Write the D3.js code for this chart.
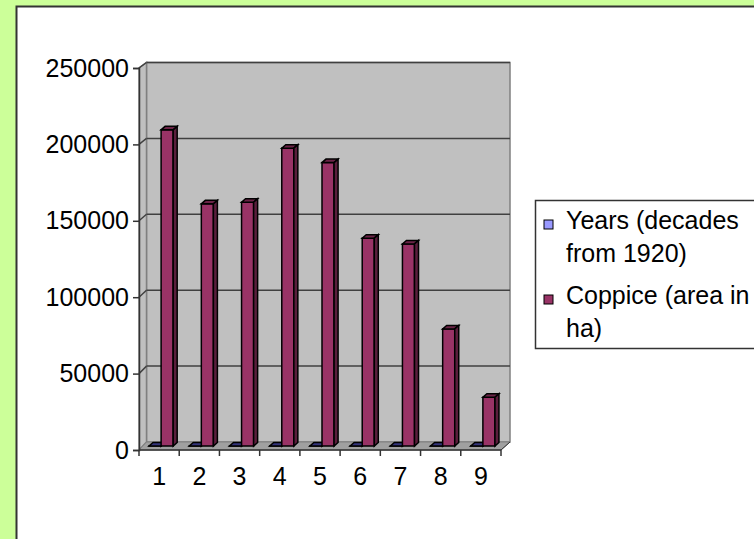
<!DOCTYPE html>
<html>
<head>
<meta charset="utf-8">
<script src="https://cdn.jsdelivr.net/npm/d3@7"></script>
<style>
  html, body { margin: 0; padding: 0; background: #ccff99; }
  svg { display: block; }
  text { font-family: Arial, "Liberation Sans", sans-serif; }
</style>
</head>
<body>
<div id="chart"></div>
<script>
// chart data
var categories = ["1", "2", "3", "4", "5", "6", "7", "8", "9"];
var yearsValues = [1, 2, 3, 4, 5, 6, 7, 8, 9];
var coppiceValues = [207600, 159000, 160100, 195600, 186100, 136500, 132700, 76900, 32000];
var yTickValues = [0, 50000, 100000, 150000, 200000, 250000];
var seriesNames = ["Years (decades from 1920)", "Coppice (area in ha)"];
var seriesColors = ["#9999ff", "#993366"];
var legendLines = [["Years (decades", "from 1920)"], ["Coppice (area in", "ha)"]];

var iWidth = 754, iHeight = 539;
var iFont = 25;

var dSVG = d3.select("#chart").append("svg")
    .attr("width", iWidth)
    .attr("height", iHeight);

// white chart area with dark top / left border
dSVG.append("rect")
    .attr("x", 16).attr("y", 6)
    .attr("width", iWidth - 16).attr("height", iHeight - 6)
    .attr("fill", "#fff");
dSVG.append("path")
    .attr("d", "M16.5," + iHeight + "V6.5H" + iWidth)
    .attr("fill", "none").attr("stroke", "#333").attr("stroke-width", 2);

// front plane scales
var x = d3.scaleBand().domain(categories).range([139, 501]).paddingInner(0.4).paddingOuter(0.2);
var xSub = d3.scaleBand().domain([0, 1]).range([0, x.bandwidth()]);
var yFront = d3.scaleLinear().domain([0, 250000]).range([450, 68]);
var yBack = d3.scaleLinear().domain([0, 250000]).range([442, 62.5]);
var yMid = d3.scaleLinear().domain([0, 250000]).range([446, 65.3]);
var depthX = 7.5;       // back wall offset
var barShiftX = 2;      // bars sit mid depth
var barDepth = 4, barRise = 3.5;

var xL = 139, xR = 501;
var bxL = xL + depthX, bxR = 510;

var g = dSVG.append("g");

// back wall
g.append("rect")
    .attr("x", bxL).attr("y", yBack(250000))
    .attr("width", bxR - bxL).attr("height", yBack(0) - yBack(250000))
    .attr("fill", "#c0c0c0").attr("stroke", "#808080").attr("stroke-width", 1.5);

// side wall
g.append("path")
    .attr("d", "M" + xL + "," + yFront(0) + "L" + xL + "," + yFront(250000) +
        "L" + bxL + "," + yBack(250000) + "L" + bxL + "," + yBack(0) + "Z")
    .attr("fill", "#c0c0c0").attr("stroke", "#808080").attr("stroke-width", 1.5);

// floor
g.append("path")
    .attr("d", "M" + xL + "," + yFront(0) + "L" + xR + "," + yFront(0) +
        "L" + bxR + "," + yBack(0) + "L" + bxL + "," + yBack(0) + "Z")
    .attr("fill", "#a0a0a0").attr("stroke", "#808080").attr("stroke-width", 1);

// gridlines (back wall + side wall)
var grid = yTickValues.filter(function(d) { return d > 0; });
g.selectAll(".gridBack").data(grid).enter().append("line")
    .attr("x1", bxL).attr("x2", bxR)
    .attr("y1", function(d) { return yBack(d); })
    .attr("y2", function(d) { return yBack(d); })
    .attr("stroke", "#404040").attr("stroke-width", 1.5);
g.selectAll(".gridSide").data(grid).enter().append("line")
    .attr("x1", xL).attr("x2", bxL)
    .attr("y1", function(d) { return yFront(d); })
    .attr("y2", function(d) { return yBack(d); })
    .attr("stroke", "#404040").attr("stroke-width", 1.5);

// axes
var yAxis = d3.axisLeft(yFront).tickValues(yTickValues).tickSize(6).tickFormat(d3.format("d"));
var gy = g.append("g").attr("transform", "translate(" + xL + ",0)").call(yAxis);
gy.select(".domain").attr("stroke", "#333").attr("stroke-width", 1.5);
gy.selectAll(".tick line").attr("stroke", "#333").attr("stroke-width", 1.5);
gy.selectAll(".tick text").attr("font-size", iFont).attr("fill", "#000").attr("x", -10)
    .attr("font-family", "Arial, 'Liberation Sans', sans-serif");

var xTicks = d3.range(categories.length + 1).map(function(i) { return xL + i * x.step(); });
g.append("line").attr("x1", xL).attr("x2", xR).attr("y1", yFront(0)).attr("y2", yFront(0))
    .attr("stroke", "#333").attr("stroke-width", 1.5);
g.append("line").attr("x1", xR).attr("x2", bxR).attr("y1", yFront(0)).attr("y2", yBack(0))
    .attr("stroke", "#333").attr("stroke-width", 1);
g.selectAll(".xtick").data(xTicks).enter().append("line")
    .attr("x1", function(d) { return d; }).attr("x2", function(d) { return d; })
    .attr("y1", yFront(0)).attr("y2", yFront(0) + 6)
    .attr("stroke", "#333").attr("stroke-width", 1.5);
g.selectAll(".xlabel").data(categories).enter().append("text")
    .attr("x", function(d) { return x(d) - x.step() * 0.2 + x.step() / 2; })
    .attr("y", 485)
    .attr("text-anchor", "middle")
    .attr("font-size", iFont)
    .text(function(d) { return d; });

// bars
var barData = [];
categories.forEach(function(c, i) {
    barData.push({ cat: c, s: 0, v: yearsValues[i] });
    barData.push({ cat: c, s: 1, v: coppiceValues[i] });
});

var shade = [
    { top: "#33337a", side: "#4d4d99" },
    { top: "#6b2447", side: "#5a1e3c" }
];

var bars = g.selectAll(".bar").data(barData).enter().append("g");
bars.each(function(d) {
    var el = d3.select(this);
    var x0 = x(d.cat) + xSub(d.s) + barShiftX;
    var w = xSub.bandwidth();
    var yt = yMid(d.v), yb = yMid(0);
    el.append("rect")
        .attr("x", x0).attr("y", yt).attr("width", w).attr("height", Math.max(0, yb - yt))
        .attr("fill", seriesColors[d.s]).attr("stroke", "#000").attr("stroke-width", 1.5);
    el.append("path")
        .attr("d", "M" + x0 + "," + yt + "L" + (x0 + w) + "," + yt + "L" + (x0 + w + barDepth) + "," + (yt - barRise) +
            "L" + (x0 + barDepth) + "," + (yt - barRise) + "Z")
        .attr("fill", shade[d.s].top).attr("stroke", "#000").attr("stroke-width", 1.5);
    el.append("path")
        .attr("d", "M" + (x0 + w) + "," + yt + "L" + (x0 + w + barDepth) + "," + (yt - barRise) +
            "L" + (x0 + w + barDepth) + "," + (yb - barRise) + "L" + (x0 + w) + "," + yb + "Z")
        .attr("fill", shade[d.s].side).attr("stroke", "#000").attr("stroke-width", 1.5);
});

// legend
var lg = dSVG.append("g");
lg.append("rect")
    .attr("x", 535.5).attr("y", 200.5).attr("width", 240).attr("height", 148)
    .attr("fill", "#fff").attr("stroke", "#333").attr("stroke-width", 1.5);
var legendY = [229, 304];
seriesNames.forEach(function(name, i) {
    lg.append("rect")
        .attr("x", 544).attr("y", legendY[i] - 9).attr("width", 9).attr("height", 9)
        .attr("fill", seriesColors[i]).attr("stroke", "#000").attr("stroke-width", 1);
    legendLines[i].forEach(function(line, j) {
        lg.append("text")
            .attr("x", 566).attr("y", legendY[i] + j * 33)
            .attr("font-size", iFont)
            .text(line);
    });
});
</script>
</body>
</html>
